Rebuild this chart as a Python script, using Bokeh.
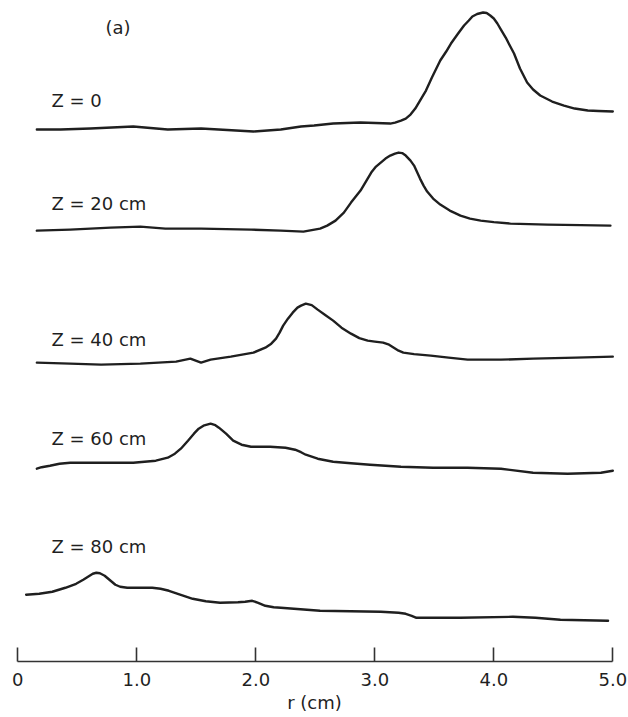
import numpy as np
from bokeh.plotting import figure
from bokeh.models import Range1d, FixedTicker
from bokeh.core.properties import value
from bokeh.embed import file_html
from bokeh.resources import INLINE

# Radial profiles at five axial stations: radius r (cm) and signal (a.u.)
labels = ["Z = 0", "Z = 20 cm", "Z = 40 cm", "Z = 60 cm", "Z = 80 cm"]

r_z0 = [0.16, 0.36, 0.61, 0.97, 1.26, 1.54, 1.98, 2.21, 2.38, 2.49, 2.65, 2.88, 3.13, 3.17,
        3.22, 3.26, 3.30, 3.34, 3.38, 3.43, 3.48, 3.55, 3.60, 3.64, 3.70, 3.75, 3.79, 3.82,
        3.86, 3.91, 3.94, 3.97, 4.00, 4.03, 4.06, 4.10, 4.13, 4.17, 4.22, 4.28, 4.33, 4.39,
        4.44, 4.49, 4.54, 4.59, 4.68, 4.79, 4.88, 5.00]
s_z0 = [0.01, 0.01, 0.02, 0.04, 0.01, 0.02, -0.01, 0.01, 0.04, 0.05, 0.07, 0.08, 0.07, 0.08,
        0.10, 0.12, 0.16, 0.22, 0.30, 0.40, 0.53, 0.70, 0.79, 0.87, 0.97, 1.05, 1.10, 1.14,
        1.165, 1.18, 1.175, 1.15, 1.12, 1.07, 1.01, 0.93, 0.86, 0.77, 0.62, 0.48, 0.41, 0.35,
        0.32, 0.29, 0.27, 0.25, 0.22, 0.20, 0.195, 0.19]

r_z20 = [0.16, 0.44, 0.78, 1.03, 1.24, 1.54, 1.96, 2.21, 2.40, 2.54, 2.60, 2.67, 2.74, 2.80,
         2.84, 2.88, 2.93, 2.97, 3.01, 3.05, 3.09, 3.13, 3.17, 3.20, 3.23, 3.26, 3.30, 3.33,
         3.38, 3.41, 3.44, 3.49, 3.55, 3.63, 3.72, 3.80, 3.89, 4.00, 4.14, 4.45, 4.73, 4.98]
s_z20 = [0.00, 0.01, 0.03, 0.04, 0.02, 0.02, 0.01, 0.00, -0.01, 0.02, 0.05, 0.10, 0.18, 0.28,
         0.34, 0.40, 0.50, 0.58, 0.64, 0.68, 0.72, 0.75, 0.77, 0.78, 0.775, 0.75, 0.70, 0.65,
         0.52, 0.45, 0.39, 0.32, 0.26, 0.20, 0.15, 0.12, 0.10, 0.085, 0.07, 0.06, 0.055, 0.05]

r_z40 = [0.16, 0.44, 0.70, 1.03, 1.33, 1.45, 1.54, 1.62, 1.79, 1.98, 2.08, 2.13, 2.17, 2.20,
         2.23, 2.27, 2.31, 2.35, 2.38, 2.42, 2.47, 2.52, 2.58, 2.65, 2.72, 2.80, 2.87, 2.94,
         3.00, 3.07, 3.12, 3.16, 3.20, 3.24, 3.33, 3.47, 3.62, 3.78, 4.06, 4.33, 4.69, 5.00]
s_z40 = [0.00, -0.01, -0.02, -0.01, 0.01, 0.04, 0.00, 0.03, 0.06, 0.10, 0.15, 0.19, 0.24, 0.30,
         0.37, 0.44, 0.50, 0.55, 0.57, 0.59, 0.575, 0.53, 0.48, 0.42, 0.35, 0.29, 0.245, 0.22,
         0.21, 0.20, 0.18, 0.15, 0.12, 0.10, 0.085, 0.07, 0.05, 0.03, 0.03, 0.04, 0.05, 0.06]

r_z60 = [0.16, 0.20, 0.27, 0.35, 0.44, 0.70, 0.97, 1.16, 1.26, 1.32, 1.37, 1.43, 1.48, 1.52,
         1.56, 1.62, 1.66, 1.69, 1.75, 1.81, 1.88, 1.96, 2.12, 2.25, 2.33, 2.38, 2.42, 2.47,
         2.52, 2.65, 2.80, 2.96, 3.22, 3.49, 3.78, 4.06, 4.33, 4.62, 4.90, 5.00]
s_z60 = [0.00, 0.015, 0.03, 0.05, 0.06, 0.06, 0.06, 0.08, 0.11, 0.15, 0.20, 0.28, 0.35, 0.40,
         0.43, 0.45, 0.435, 0.41, 0.35, 0.28, 0.24, 0.22, 0.22, 0.21, 0.19, 0.165, 0.14, 0.12,
         0.10, 0.07, 0.055, 0.04, 0.02, 0.01, 0.01, 0.00, -0.04, -0.05, -0.04, -0.02]

r_z80 = [0.07, 0.18, 0.29, 0.40, 0.49, 0.55, 0.59, 0.63, 0.66, 0.69, 0.73, 0.78, 0.82, 0.86,
         0.92, 1.02, 1.13, 1.20, 1.27, 1.37, 1.47, 1.58, 1.70, 1.85, 1.91, 1.97, 2.02, 2.08,
         2.15, 2.21, 2.54, 3.05, 3.20, 3.26, 3.31, 3.35, 3.72, 4.16, 4.35, 4.56, 4.96]
s_z80 = [0.00, 0.01, 0.03, 0.07, 0.11, 0.15, 0.18, 0.21, 0.22, 0.215, 0.19, 0.14, 0.10, 0.08,
         0.07, 0.07, 0.07, 0.06, 0.04, 0.00, -0.04, -0.065, -0.08, -0.075, -0.07, -0.06, -0.08, -0.11,
         -0.125, -0.13, -0.16, -0.17, -0.18, -0.19, -0.21, -0.23, -0.23, -0.22, -0.23, -0.25, -0.26]

ticks = [0, 1, 2, 3, 4, 5]
tick_labels = ["0", "1.0", "2.0", "3.0", "4.0", "5.0"]

# Vertical stacking of the traces and placement of their captions
offsets = [5.307, 4.307, 2.987, 1.927, 0.667]
label_x = 0.283
label_y = [5.607, 4.577, 3.217, 2.227, 1.147]

ink = "#1f1f1f"
font = "DejaVu Sans"

p = figure(width=628, height=717,
           x_range=Range1d(-0.1454, 5.1319), y_range=Range1d(0, 6.607),
           output_backend="svg", toolbar_location=None, y_axis_location=None,
           min_border_left=0, min_border_right=0, min_border_top=0, min_border_bottom=56)
p.xgrid.visible = False
p.ygrid.visible = False
p.outline_line_color = None
p.background_fill_color = "white"
p.border_fill_color = "white"

traces = [(r_z0, s_z0), (r_z20, s_z20), (r_z40, s_z40), (r_z60, s_z60), (r_z80, s_z80)]
for (rr, ss), off in zip(traces, offsets):
    p.line(np.array(rr), np.array(ss) + off, line_width=2.4, line_color=ink,
           line_join="round", line_cap="round")

p.text(x=[label_x] * len(labels), y=label_y, text=labels,
       text_font=value(font), text_font_size="18px", text_color=ink,
       text_baseline="middle", text_align="left")
p.text(x=[0.737], y=[6.337], text=["(a)"],
       text_font=value(font), text_font_size="18px", text_color=ink,
       text_baseline="middle", text_align="left")

ax = p.xaxis[0]
ax.ticker = FixedTicker(ticks=ticks)
ax.major_label_overrides = {t: lab for t, lab in zip(ticks, tick_labels)}
ax.bounds = (0, 5)
ax.major_tick_in = 14
ax.major_tick_out = 0
ax.minor_tick_in = 0
ax.minor_tick_out = 0
ax.axis_line_width = 1.6
ax.axis_line_color = "#333333"
ax.major_tick_line_width = 1.6
ax.major_tick_line_color = "#333333"
ax.major_label_standoff = 11
ax.major_label_text_font = font
ax.major_label_text_font_size = "18px"
ax.major_label_text_color = ink
ax.axis_label = "r (cm)"
ax.axis_label_standoff = 3
ax.axis_label_text_font = font
ax.axis_label_text_font_size = "18px"
ax.axis_label_text_font_style = "normal"
ax.axis_label_text_color = ink

open("out.html", "w").write(file_html(p, INLINE))
